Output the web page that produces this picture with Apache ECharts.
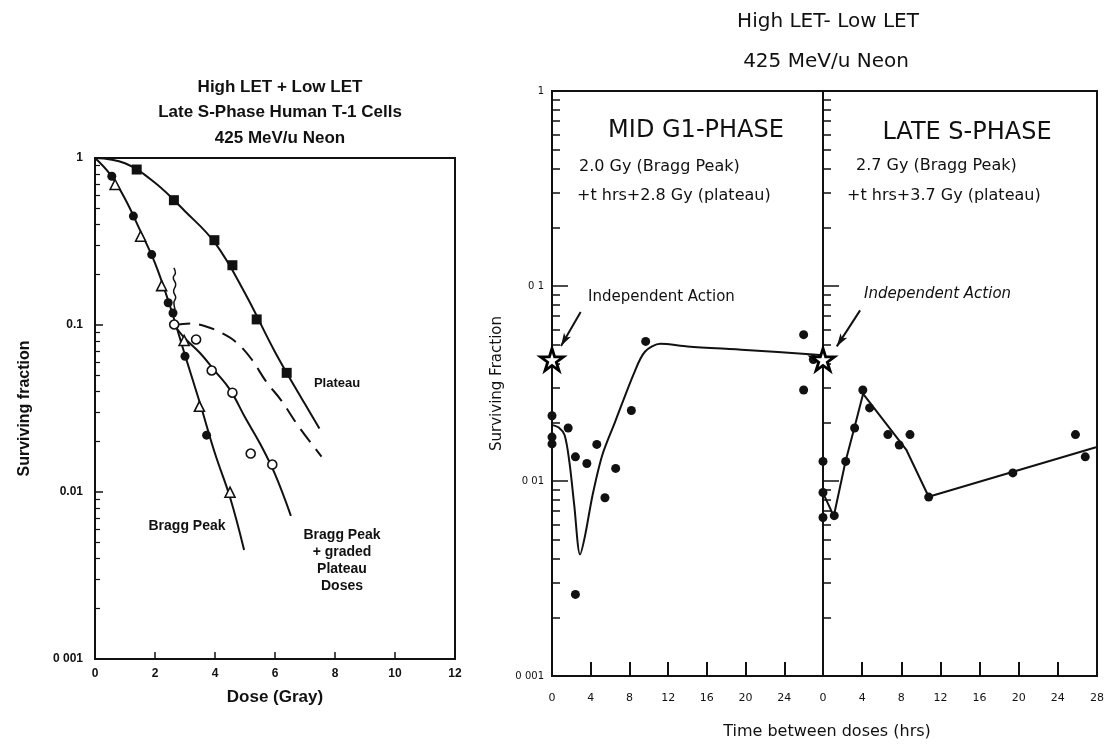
<!DOCTYPE html>
<html><head><meta charset="utf-8">
<script src="https://cdn.jsdelivr.net/npm/echarts@6/dist/echarts.min.js"></script>
<style>html,body{margin:0;padding:0;background:#fff}#c{width:1108px;height:745px}</style>
</head><body><div id="c"></div>
<script>
// ================= LEFT PANEL DATA (dose in Gy, surviving fraction) =================
const doseTicks = [0, 2, 4, 6, 8, 10, 12];
const leftSFTickLabels = ['1', '0.1', '0.01', '0 001'];

const plateauDose = [1.39, 2.63, 3.98, 4.58, 5.39, 6.39];
const plateauSF   = [0.853, 0.559, 0.322, 0.228, 0.108, 0.0517];
const braggCircleDose = [0.56, 1.28, 1.89, 2.44, 2.6, 3.0, 3.72];
const braggCircleSF   = [0.778, 0.449, 0.264, 0.136, 0.118, 0.065, 0.0219];
const braggTriDose = [0.67, 1.52, 2.22, 2.97, 3.48, 4.5];
const braggTriSF   = [0.694, 0.340, 0.172, 0.0808, 0.0326, 0.00997];
const gradedDose = [2.64, 3.37, 3.89, 4.58, 5.19, 5.91];
const gradedSF   = [0.1007, 0.0819, 0.0534, 0.0393, 0.0170, 0.0146];

const plateauCurveDose = [0, 1, 2, 3, 4, 5, 6, 7, 7.48];
const plateauCurveSF   = [1, 0.93, 0.71, 0.48, 0.31, 0.155, 0.069, 0.0336, 0.024];
const braggCurveDose = [0, 0.5, 1, 1.5, 2, 2.5, 3, 3.5, 4, 4.5, 4.97];
const braggCurveSF   = [1, 0.8, 0.57, 0.37, 0.235, 0.13, 0.066, 0.034, 0.017, 0.0093, 0.0045];
const gradedCurveDose = [2.64, 3.0, 3.5, 4.0, 4.5, 5.0, 5.5, 6.0, 6.53];
const gradedCurveSF   = [0.1, 0.083, 0.068, 0.053, 0.041, 0.028, 0.0195, 0.0128, 0.0072];
const dashedCurveDose = [2.64, 3.2, 3.7, 4.2, 4.7, 5.2, 5.7, 6.2, 6.8, 7.55];
const dashedCurveSF   = [0.1, 0.102, 0.098, 0.09, 0.079, 0.063, 0.046, 0.0355, 0.0245, 0.0163];
const squiggleDose = [2.63, 2.68, 2.61, 2.69, 2.62, 2.69, 2.63, 2.67];
const squiggleSF   = [0.220, 0.205, 0.192, 0.175, 0.159, 0.146, 0.136, 0.124];

// ================= RIGHT PANEL DATA (time between doses in hrs, surviving fraction) =================
const timeTicks = [0, 4, 8, 12, 16, 20, 24, 28];
const rightSFTickLabels = ['1', '0 1', '0 01', '0 001'];

const g1Time = [0, 0, 0, 1.67, 2.42, 3.6, 4.63, 5.47, 6.58, 8.2, 9.68, 2.42, 26.0, 27.0, 26.0];
const g1SF   = [0.0216, 0.0168, 0.0155, 0.0187, 0.0133, 0.0123, 0.0154, 0.0082, 0.0116, 0.023, 0.052, 0.00262, 0.0563, 0.042, 0.0293];
const g1CurveTime = [0, 0.7, 1.3, 1.8, 2.3, 2.9, 3.4, 4.2, 5.2, 6.5, 8.5, 9.6, 11.2, 14, 20, 27.7];
const g1CurveSF   = [0.0194, 0.0188, 0.0172, 0.0125, 0.0075, 0.0042, 0.0052, 0.0085, 0.0136, 0.02, 0.036, 0.046, 0.0505, 0.049, 0.047, 0.0443];

const sTime = [0, 0, 0, 1.15, 2.32, 3.23, 4.07, 4.76, 6.63, 7.79, 8.89, 10.8, 19.4, 25.8, 26.8];
const sSF   = [0.0126, 0.00873, 0.0065, 0.00664, 0.0126, 0.0187, 0.0293, 0.0237, 0.0173, 0.0153, 0.0173, 0.00827, 0.011, 0.0173, 0.0133];
const sCurveTime = [0, 1.1, 2.3, 3.2, 4.1, 8.5, 10.8, 27.9];
const sCurveSF   = [0.0087, 0.0066, 0.0126, 0.0187, 0.028, 0.0145, 0.0083, 0.0149];

const independentTime = [0];
const independentSF = [0.042];
const g1ArrowFrom = [2.96, 0.0736], g1ArrowTo = [0.93, 0.0492];
const sArrowFrom = [3.79, 0.075], sArrowTo = [1.41, 0.049];

// ================= helpers =================
const zip = (a, b) => a.map((v, i) => [v, b[i]]);
const decadeLabel = arr => v => { const e = Math.round(-Math.log10(v)); return (e >= 0 && e < arr.length) ? arr[e] : ''; };
const BLACK = '#111';
const STAR = 'path://M50,0 L61,35 L98,35 L68,57 L79,91 L50,70 L21,91 L32,57 L2,35 L39,35 Z';
const leftFont = '"Liberation Sans", Arial, sans-serif';
const rightFont = '"DejaVu Sans", "Liberation Sans", sans-serif';

function logY(gridIndex, labels, opts) {
  return Object.assign({
    type: 'log', logBase: 10, min: 0.001, max: 1, gridIndex,
    axisLine: { show: true, lineStyle: { color: BLACK, width: 2 } },
    axisTick: { show: true, inside: true, length: 8, lineStyle: { color: BLACK, width: 1.5 } },
    minorTick: { show: true, splitNumber: 9, length: 5, lineStyle: { color: BLACK, width: 1.2 } },
    splitLine: { show: false }, minorSplitLine: { show: false },
    axisLabel: { formatter: decadeLabel(labels), color: BLACK }
  }, opts || {});
}

const lineS = (x, y, data, extra) => Object.assign({
  type: 'line', xAxisIndex: x, yAxisIndex: y, data, showSymbol: false, symbol: 'none',
  lineStyle: { color: BLACK, width: 2 }, clip: false, z: 2
}, extra || {});
const scatterS = (x, y, data, symbol, size, fill, extra) => Object.assign({
  type: 'scatter', xAxisIndex: x, yAxisIndex: y, data, symbol, symbolSize: size,
  itemStyle: { color: fill, borderColor: BLACK, borderWidth: fill === '#fff' ? 1.6 : 0, opacity: 1 },
  clip: false, z: 5
}, extra || {});

const starSeries = (ax, from, to) => scatterS(ax, ax, zip(independentTime, independentSF), STAR, [23, 22], '#fff', {
  itemStyle: { color: '#fff', borderColor: '#000', borderWidth: 2.8, opacity: 1 },
  z: 6,
  markLine: { silent: true, symbol: ['none', 'arrow'], symbolSize: [6, 13], label: { show: false },
    lineStyle: { color: BLACK, width: 2, type: 'solid' },
    data: [[{ coord: from }, { coord: to }]] }
});

const option = {
  animation: false,
  backgroundColor: '#fff',
  grid: [
    { left: 95, top: 158, width: 360, height: 501, show: true, borderColor: BLACK, borderWidth: 2, backgroundColor: 'transparent' },
    { left: 552, top: 91, width: 271, height: 585, show: true, borderColor: BLACK, borderWidth: 2, backgroundColor: 'transparent' },
    { left: 823, top: 91, width: 274, height: 585, show: true, borderColor: BLACK, borderWidth: 2, backgroundColor: 'transparent' }
  ],
  xAxis: [
    { type: 'value', gridIndex: 0, min: doseTicks[0], max: doseTicks[doseTicks.length - 1], interval: 2,
      axisLine: { lineStyle: { color: BLACK, width: 2 } },
      axisTick: { inside: true, length: 7, lineStyle: { color: BLACK, width: 1.5 } },
      splitLine: { show: false },
      axisLabel: { color: BLACK, fontSize: 12, fontWeight: 'bold', fontFamily: leftFont, margin: 9 },
      name: 'Dose (Gray)', nameLocation: 'middle', nameGap: 30,
      nameTextStyle: { color: BLACK, fontSize: 17, fontWeight: 'bold', fontFamily: leftFont } },
    { type: 'value', gridIndex: 1, min: timeTicks[0], max: timeTicks[timeTicks.length - 1], interval: 4,
      axisLine: { lineStyle: { color: BLACK, width: 2 } },
      axisTick: { inside: true, length: 14, lineStyle: { color: BLACK, width: 2 } },
      splitLine: { show: false },
      axisLabel: { color: BLACK, fontSize: 11, fontFamily: rightFont, margin: 17, formatter: v => v === 28 ? '' : String(v) } },
    { type: 'value', gridIndex: 2, min: timeTicks[0], max: timeTicks[timeTicks.length - 1], interval: 4,
      axisLine: { lineStyle: { color: BLACK, width: 2 } },
      axisTick: { inside: true, length: 14, lineStyle: { color: BLACK, width: 2 } },
      splitLine: { show: false },
      axisLabel: { color: BLACK, fontSize: 11, fontFamily: rightFont, margin: 17, showMinLabel: true, showMaxLabel: true } }
  ],
  yAxis: [
    logY(0, leftSFTickLabels, {
      axisLabel: { formatter: decadeLabel(leftSFTickLabels), color: BLACK, fontSize: 12, fontWeight: 'bold', fontFamily: leftFont, margin: 12 },
      name: 'Surviving fraction', nameLocation: 'middle', nameGap: 62, nameRotate: 90,
      nameTextStyle: { color: BLACK, fontSize: 16, fontWeight: 'bold', fontFamily: leftFont } }),
    logY(1, rightSFTickLabels, {
      axisTick: { show: true, inside: true, length: 16, lineStyle: { color: BLACK, width: 1.5 } },
      minorTick: { show: true, splitNumber: 9, length: 8, lineStyle: { color: BLACK, width: 1.5 } },
      axisLabel: { formatter: decadeLabel(rightSFTickLabels), color: BLACK, fontSize: 10, fontFamily: rightFont, margin: 8 },
      name: 'Surviving Fraction', nameLocation: 'middle', nameGap: 47, nameRotate: 90,
      nameTextStyle: { color: BLACK, fontSize: 15, fontFamily: rightFont } }),
    logY(2, rightSFTickLabels, {
      axisTick: { show: true, inside: true, length: 16, lineStyle: { color: BLACK, width: 1.5 } },
      minorTick: { show: true, splitNumber: 9, length: 8, lineStyle: { color: BLACK, width: 1.5 } },
      axisLabel: { show: false } })
  ],
  series: [
    // left curves
    lineS(0, 0, zip(plateauCurveDose, plateauCurveSF), { smooth: 0.4 }),
    lineS(0, 0, zip(braggCurveDose, braggCurveSF), { smooth: 0.4 }),
    lineS(0, 0, zip(gradedCurveDose, gradedCurveSF), { smooth: 0.4 }),
    lineS(0, 0, zip(dashedCurveDose, dashedCurveSF), { smooth: 0.4, lineStyle: { color: BLACK, width: 2, type: [16, 9] } }),
    lineS(0, 0, zip(squiggleDose, squiggleSF), { smooth: 0.5, lineStyle: { color: BLACK, width: 1.5 } }),
    // left markers
    scatterS(0, 0, zip(plateauDose, plateauSF), 'rect', 10, BLACK),
    scatterS(0, 0, zip(braggCircleDose, braggCircleSF), 'circle', 9, BLACK),
    scatterS(0, 0, zip(braggTriDose, braggTriSF), 'triangle', 10, '#fff'),
    scatterS(0, 0, zip(gradedDose, gradedSF), 'circle', 9, '#fff'),
    // right G1
    lineS(1, 1, zip(g1CurveTime, g1CurveSF), { smooth: 0.3 }),
    scatterS(1, 1, zip(g1Time, g1SF), 'circle', 9, BLACK),
    starSeries(1, g1ArrowFrom, g1ArrowTo),
    // right late S
    lineS(2, 2, zip(sCurveTime, sCurveSF)),
    scatterS(2, 2, zip(sTime, sSF), 'circle', 9, BLACK),
    starSeries(2, sArrowFrom, sArrowTo)
  ],
  graphic: [
    // left titles
    { type: 'text', style: { text: 'High LET + Low LET', x: 280, y: 87, textAlign: 'center', textVerticalAlign: 'middle', font: 'bold 17px ' + leftFont, fill: BLACK } },
    { type: 'text', style: { text: 'Late S-Phase Human T-1 Cells', x: 280, y: 112, textAlign: 'center', textVerticalAlign: 'middle', font: 'bold 17px ' + leftFont, fill: BLACK } },
    { type: 'text', style: { text: '425 MeV/u Neon', x: 280, y: 138, textAlign: 'center', textVerticalAlign: 'middle', font: 'bold 17px ' + leftFont, fill: BLACK } },
    { type: 'text', style: { text: 'Plateau', x: 337, y: 383, textAlign: 'center', textVerticalAlign: 'middle', font: 'bold 13px ' + leftFont, fill: BLACK } },
    { type: 'text', style: { text: 'Bragg Peak', x: 187, y: 526, textAlign: 'center', textVerticalAlign: 'middle', font: 'bold 14px ' + leftFont, fill: BLACK } },
    { type: 'text', style: { text: 'Bragg Peak\n+ graded\nPlateau\nDoses', x: 342, y: 527, textAlign: 'center', textVerticalAlign: 'top', font: 'bold 14px ' + leftFont, lineHeight: 17, fill: BLACK } },
    // right titles
    { type: 'text', style: { text: 'High LET- Low LET', x: 828, y: 22, textAlign: 'center', textVerticalAlign: 'middle', font: '20px ' + rightFont, fill: BLACK } },
    { type: 'text', style: { text: '425 MeV/u Neon', x: 826, y: 62, textAlign: 'center', textVerticalAlign: 'middle', font: '20px ' + rightFont, fill: BLACK } },
    { type: 'text', style: { text: 'MID G1-PHASE', x: 696, y: 131, textAlign: 'center', textVerticalAlign: 'middle', font: '24px ' + rightFont, fill: BLACK } },
    { type: 'text', style: { text: '2.0 Gy (Bragg Peak)', x: 579, y: 167, textAlign: 'left', textVerticalAlign: 'middle', font: '16px ' + rightFont, fill: BLACK } },
    { type: 'text', style: { text: '+t hrs+2.8 Gy (plateau)', x: 577, y: 196, textAlign: 'left', textVerticalAlign: 'middle', font: '16px ' + rightFont, fill: BLACK } },
    { type: 'text', style: { text: 'Independent Action', x: 588, y: 297, textAlign: 'left', textVerticalAlign: 'middle', font: '15px ' + rightFont, fill: BLACK } },
    { type: 'text', style: { text: 'LATE S-PHASE', x: 967, y: 133, textAlign: 'center', textVerticalAlign: 'middle', font: '24px ' + rightFont, fill: BLACK } },
    { type: 'text', style: { text: '2.7 Gy (Bragg Peak)', x: 856, y: 166, textAlign: 'left', textVerticalAlign: 'middle', font: '16px ' + rightFont, fill: BLACK } },
    { type: 'text', style: { text: '+t hrs+3.7 Gy (plateau)', x: 847, y: 196, textAlign: 'left', textVerticalAlign: 'middle', font: '16px ' + rightFont, fill: BLACK } },
    { type: 'text', style: { text: 'Independent Action', x: 864, y: 294, textAlign: 'left', textVerticalAlign: 'middle', font: 'italic 15px ' + rightFont, fill: BLACK } },
    { type: 'text', style: { text: 'Time between doses (hrs)', x: 827, y: 732, textAlign: 'center', textVerticalAlign: 'middle', font: '16px ' + rightFont, fill: BLACK } }
  ]
};

const chart = echarts.init(document.getElementById('c'), null, { renderer: 'canvas' });
chart.setOption(option);
</script>
</body></html>
